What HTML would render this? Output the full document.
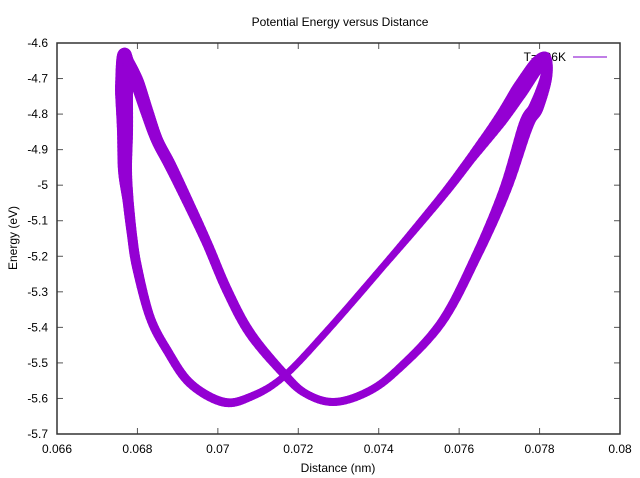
<!DOCTYPE html>
<html><head><meta charset="utf-8"><style>
body{margin:0;background:#fff}
svg{display:block}
text{font-family:"Liberation Sans",sans-serif;font-size:12px;fill:#000}
</style></head><body>
<svg id="chart" width="640" height="478">
<rect width="640" height="478" fill="#fff"/>
<text x="340" y="26" text-anchor="middle">Potential Energy versus Distance</text>
<text x="338" y="472" text-anchor="middle">Distance (nm)</text>
<text transform="translate(17,238) rotate(-90)" text-anchor="middle">Energy (eV)</text>
<g id="ticks"></g>
<g>
<text x="566" y="61" text-anchor="end">T=306K</text>
<line x1="573" y1="57" x2="607" y2="57" stroke="#c07ee6" stroke-width="2"/>
</g>
<g id="series"></g>
<rect x="57" y="43" width="563" height="391" fill="none" stroke="#333" stroke-width="1.5"/>
</svg>
<script>
const xTicks=[0.066,0.068,0.07,0.072,0.074,0.076,0.078,0.08];
const xTickLabels=["0.066","0.068","0.07","0.072","0.074","0.076","0.078","0.08"];
const yTicks=[-4.6,-4.7,-4.8,-4.9,-5,-5.1,-5.2,-5.3,-5.4,-5.5,-5.6,-5.7];
const yTickLabels=["-4.6","-4.7","-4.8","-4.9","-5","-5.1","-5.2","-5.3","-5.4","-5.5","-5.6","-5.7"];
const distance=[0.067666,0.067666,0.067691,0.067691,0.067766,0.067865,0.067989,0.068313,0.068735,0.069307,0.070128,0.070799,0.071620,0.072739,0.074181,0.074927,0.075698,0.076320,0.077016,0.077513,0.077936,0.078160,0.078160,0.077911,0.077662,0.077140,0.076419,0.075549,0.074405,0.073659,0.072863,0.072167,0.071620,0.070799,0.070227,0.069730,0.069233,0.068810,0.068487,0.068238,0.067989,0.067766];
const energy=[-4.637,-4.732,-4.845,-4.957,-5.042,-5.140,-5.230,-5.371,-5.464,-5.557,-5.610,-5.596,-5.540,-5.407,-5.219,-5.120,-5.014,-4.921,-4.817,-4.732,-4.662,-4.642,-4.698,-4.782,-4.831,-5.014,-5.202,-5.388,-5.526,-5.585,-5.610,-5.585,-5.528,-5.416,-5.295,-5.163,-5.042,-4.943,-4.873,-4.794,-4.710,-4.653];
const bandW=[14,18,16,14,11,10,10,9,9,9,9,8,7,7,7,8,9,10,14,17,16,10,12,15,15,12,10,9,8,8,8,8,9,10,10,10,11,12,12,13,14,12];
const X0=57,X1=620,Y0=434,Y1=43;
const sx=v=>X0+(v-0.066)/(0.08-0.066)*(X1-X0);
const sy=v=>Y0-(v-(-5.7))/((-4.6)-(-5.7))*(Y0-Y1);
const NS="http://www.w3.org/2000/svg";
const tg=document.getElementById('ticks');
xTicks.forEach((t,i)=>{
  const x=sx(t);
  [[Y0,Y0-6],[Y1,Y1+6]].forEach(p=>{
    const l=document.createElementNS(NS,'line');
    l.setAttribute('x1',x);l.setAttribute('x2',x);l.setAttribute('y1',p[0]);l.setAttribute('y2',p[1]);
    l.setAttribute('stroke','#555');
    
    
    tg.appendChild(l);
  });
  const tx=document.createElementNS(NS,'text');
  tx.setAttribute('x',x);tx.setAttribute('y',Y0+19);tx.setAttribute('text-anchor','middle');
  tx.textContent=xTickLabels[i];
  
  
  tg.appendChild(tx);
});
yTicks.forEach((t,i)=>{
  const y=sy(t);
  [[X0,X0+6],[X1,X1-6]].forEach(p=>{
    const l=document.createElementNS(NS,'line');
    l.setAttribute('y1',y);l.setAttribute('y2',y);l.setAttribute('x1',p[0]);l.setAttribute('x2',p[1]);
    l.setAttribute('stroke','#555');
    
    
    tg.appendChild(l);
  });
  const tx=document.createElementNS(NS,'text');
  tx.setAttribute('x',X0-9);tx.setAttribute('y',y+4);tx.setAttribute('text-anchor','end');
  tx.textContent=yTickLabels[i];
  
  
  tg.appendChild(tx);
});
const sg=document.getElementById('series');
const n=distance.length;
const P=distance.map((d,i)=>[sx(d),sy(energy[i])]);
const cr=(a,b,c,d,t)=>{const t2=t*t,t3=t2*t;return 0.5*((2*b)+(-a+c)*t+(2*a-5*b+4*c-d)*t2+(-a+3*b-3*c+d)*t3);};
const pts=[],ws=[];
const S=10;
for(let i=0;i<n;i++){
  const p0=P[(i-1+n)%n],p1=P[i],p2=P[(i+1)%n],p3=P[(i+2)%n];
  const w1=bandW[i],w2=bandW[(i+1)%n];
  for(let k=0;k<S;k++){
    const t=k/S;
    pts.push([cr(p0[0],p1[0],p2[0],p3[0],t),cr(p0[1],p1[1],p2[1],p3[1],t)]);
    ws.push(w1+(w2-w1)*t);
  }
}
const m=pts.length;
for(let i=0;i<m;i++){
  const j=(i+1)%m;
  const l=document.createElementNS(NS,'line');
  l.setAttribute('x1',pts[i][0]);l.setAttribute('y1',pts[i][1]);
  l.setAttribute('x2',pts[j][0]);l.setAttribute('y2',pts[j][1]);
  l.setAttribute('stroke','#9400d3');
  l.setAttribute('stroke-width',(ws[i]+ws[j])/2);
  l.setAttribute('stroke-linecap','round');
  
  
  sg.appendChild(l);
}
</script>
</body></html>
